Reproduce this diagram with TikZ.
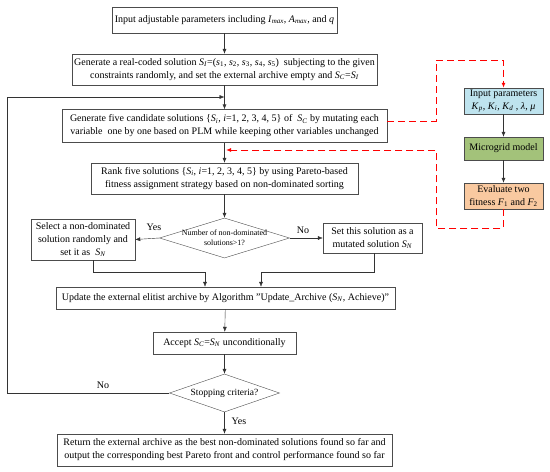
\documentclass[tikz,border=0pt]{standalone}
\usepackage{fontspec}
\setmainfont{Liberation Serif}
\usepackage{tikz}
\usetikzlibrary{shapes.geometric,arrows.meta}
\newcommand{\vr}[2]{\textit{#1}\textsubscript{\textit{#2}}}
\newcommand{\vn}[2]{\textit{#1}\textsubscript{#2}}
\definecolor{parblue}{HTML}{BEE3EE}
\definecolor{mggreen}{HTML}{A3C27A}
\definecolor{evpeach}{HTML}{F9C9A0}

\begin{document}
\begin{tikzpicture}[x=1pt,y=-1pt,
		>={Latex[length=5pt,width=4pt]},
		box/.style={draw=black!70,fill=white,align=center,inner sep=0pt,font=\fontsize{10}{13}\selectfont},
		decision/.style={diamond,draw=black!70,inner sep=0pt},
		flow/.style={->,draw=black!80},
		link/.style={->,draw=red,line width=1pt,dash pattern=on 7pt off 4pt}]
		\useasboundingbox (0,0) rectangle (550,472);
		
		\node[box,minimum width=225pt,minimum height=26pt] (in) at (224.5,20)
		{Input adjustable parameters including \vr{I}{max}, \vr{A}{max}, and \textit{q}};
		\node[box,minimum width=305pt,minimum height=31pt] (gen) at (224.5,69.5)
		{Generate a real-coded solution \vr{S}{I}=(\vn{s}{1}, \vn{s}{2}, \vn{s}{3}, \vn{s}{4}, \vn{s}{5})\ \ subjecting to the given\\
			constraints randomly, and set the external archive empty and \vr{S}{C}=\vr{S}{I}};
		\node[box,minimum width=325pt,minimum height=33pt] (cand) at (224.5,126)
		{Generate five candidate solutions \{\vr{S}{i}, \textit{i}=1, 2, 3, 4, 5\} of\ \ \vr{S}{C} by mutating each\\
			variable\ \ one by one based on PLM while keeping other variables unchanged};
		\node[box,minimum width=267pt,minimum height=31pt] (rank) at (224.5,178.5)
		{Rank five solutions \{\vr{S}{i}, \textit{i}=1, 2, 3, 4, 5\} by using Pareto-based\\
			fitness assignment strategy based on non-dominated sorting};
		\node[decision,minimum width=130pt,minimum height=40pt] (dec) at (224.5,238) {};
		\node[align=center,inner sep=0pt,font=\fontsize{8}{10}\selectfont] (dectext) at (dec)
		{Number of non-dominated\\solutions>1?};
		\node[box,minimum width=104pt,minimum height=41pt] (sel) at (83,239.5)
		{Select a non-dominated\\solution randomly and\\set it as\ \ \vr{S}{N}};
		\node[box,minimum width=99pt,minimum height=30pt] (set) at (372.5,238)
		{Set this solution as a\\mutated solution \vr{S}{N}};
		\node[box,minimum width=339pt,minimum height=22pt] (upd) at (225.5,298)
		{Update the external elitist archive by Algorithm "Update\_Archive (\vr{S}{N}, Achieve)"};
		\node[box,minimum width=143pt,minimum height=22pt] (acc) at (224.5,343)
		{Accept \vr{S}{C}=\vr{S}{N} unconditionally};
		\node[decision,minimum width=110pt,minimum height=38pt] (stop) at (224.5,393) {};
		\node[inner sep=0pt,font=\fontsize{9.5}{12}\selectfont] (stoptext) at (stop) {Stopping criteria?};
		\node[box,minimum width=335pt,minimum height=32pt] (ret) at (224.5,450)
		{Return the external archive as the best non-dominated solutions found so far and\\
			output the corresponding best Pareto front and control performance found so far};
		
		\node[box,fill=parblue,minimum width=79pt,minimum height=26pt] (par) at (503.5,101)
		{Input parameters\\\vn{\textit{K}}{\textit{p}}, \vr{K}{i}, \vr{K}{d} , \textit{λ}, \textit{μ}};
		\node[box,fill=mggreen,minimum width=79pt,minimum height=23pt] (mg) at (503.5,148.5)
		{Microgrid model};
		\node[box,fill=evpeach,minimum width=79pt,minimum height=26pt] (ev) at (503.5,196)
		{Evaluate two\\fitness \vn{\textit{F}}{1} and \vn{\textit{F}}{2}};
		
		\coordinate (back) at (224.5,97);
		\coordinate (fb) at (226,150);
		\coordinate (ljoin) at (205,272);
		\coordinate (rjoin) at (261,272);
		
		\foreach \a/\b in {in/gen,gen/cand,cand/rank,rank/dec,upd/acc,acc/stop,stop/ret,par/mg,mg/ev}
		\draw[flow] (\a) -- (\b);
		\draw[flow] (dec.west) -- (sel.east);
		\draw[flow] (dec.east) -- (set.west);
		\draw[flow] ([xshift=10pt]sel.south) |- (ljoin) -- (ljoin |- upd.north);
		\draw[flow] ([xshift=1.5pt]set.south) |- (rjoin) -- (rjoin |- upd.north);
		\draw[flow] (stop.west) -- (7,393) -- (7,97) -- (back);
		
		\draw[link] ([yshift=5pt]cand.east) -- (436,121) -- (436,60) -| (par.north);
		\draw[link] (ev.south) -- (503.5,228) -- (436,228) -- (436,150) -- (fb);
		
		\node[font=\fontsize{10}{12}\selectfont] (yes1) at (154,227) {Yes};
		\node[font=\fontsize{10}{12}\selectfont] (no1) at (303,230) {No};
		\node[font=\fontsize{10}{12}\selectfont] (no2) at (103,385) {No};
		\node[font=\fontsize{10}{12}\selectfont] (yes2) at (239,421) {Yes};
	\end{tikzpicture}
\end{document}
